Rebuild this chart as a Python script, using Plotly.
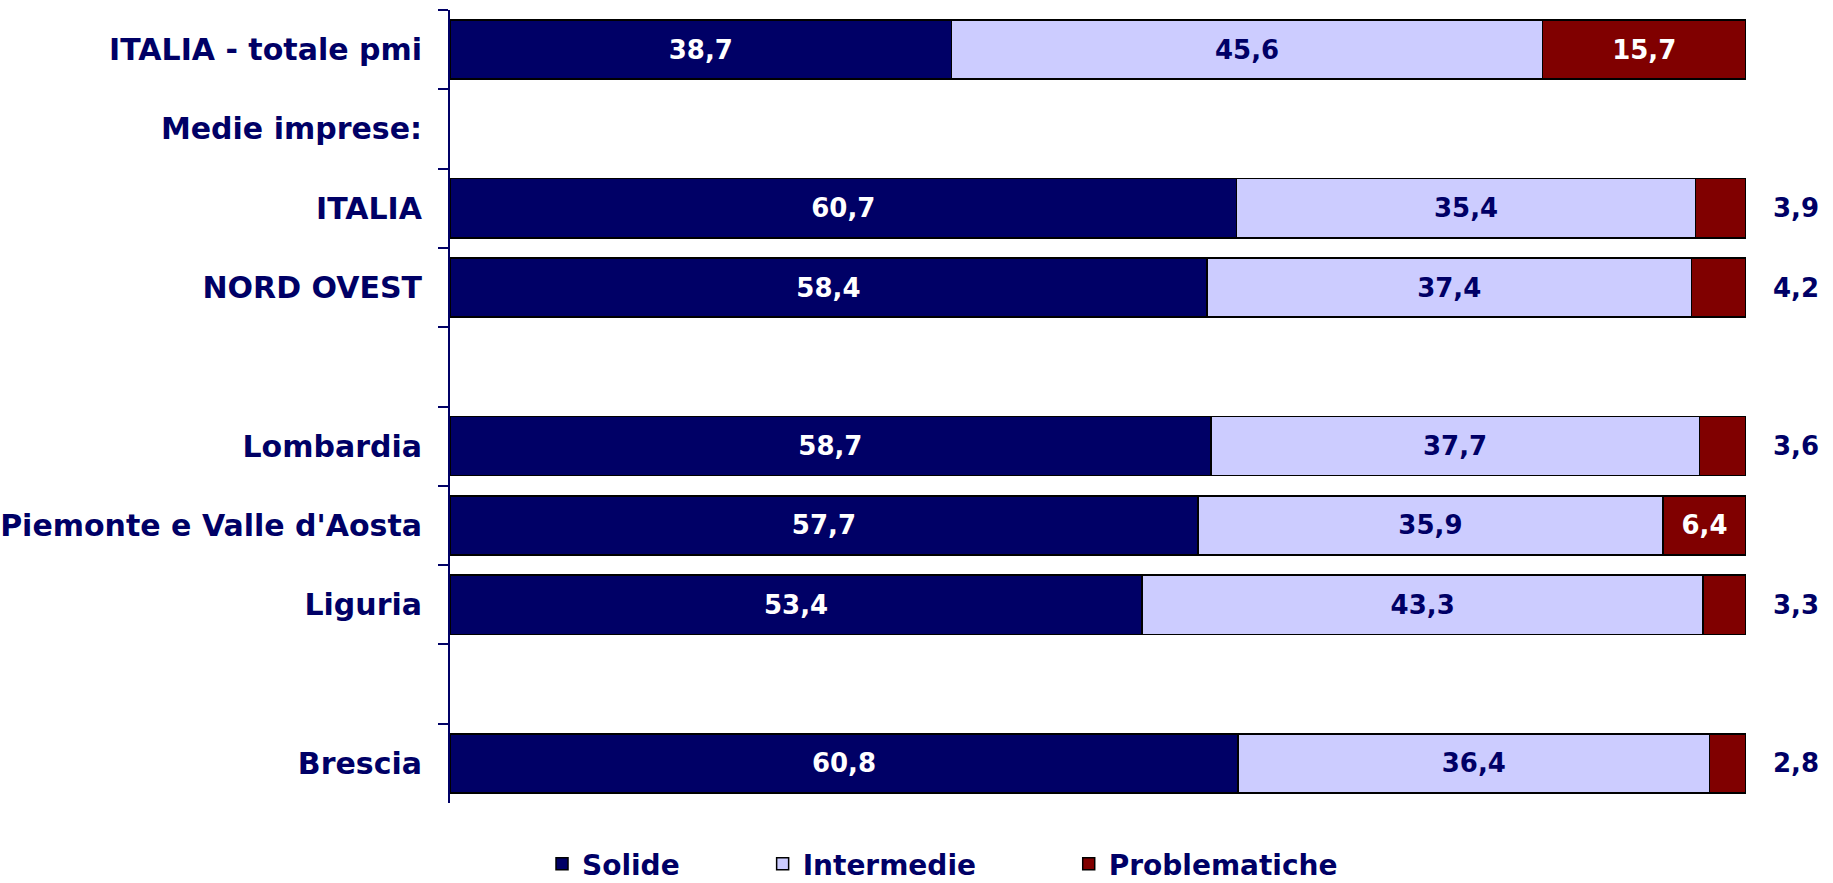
import plotly.graph_objects as go

categories = ["ITALIA - totale pmi", "Medie imprese:", "ITALIA", "NORD OVEST", " ",
              "Lombardia", "Piemonte e Valle d'Aosta", "Liguria", "  ", "Brescia"]
solide = [38.7, None, 60.7, 58.4, None, 58.7, 57.7, 53.4, None, 60.8]
intermedie = [45.6, None, 35.4, 37.4, None, 37.7, 35.9, 43.3, None, 36.4]
problematiche = [15.7, None, 3.9, 4.2, None, 3.6, 6.4, 3.3, None, 2.8]
series_names = ["Solide", "Intermedie", "Problematiche"]

NAVY = "#000066"
LAV = "#CCCCFF"
MAROON = "#800000"
FONT = "DejaVu Sans"
FS = 26
NB = "\u00a0"

fig = go.Figure()

# Problematiche labels: inside when wide enough, else outside (drawn as annotations)
prob_inside = [v is not None and v >= 5 for v in problematiche]

specs = [
    (solide, series_names[0], NAVY, "white", [v is not None for v in solide], 8),
    (intermedie, series_names[1], LAV, NAVY, [v is not None for v in intermedie], 9),
    (problematiche, series_names[2], MAROON, "white", prob_inside, 0),
]
for vals, name, color, tcolor, show, pad in specs:
    texts = [("%.1f" % v).replace(".", ",") if (v is not None and s) else "" for v, s in zip(vals, show)]
    fig.add_trace(go.Bar(
        y=categories, x=vals, name=name + NB * pad, orientation="h",
        marker=dict(color=color, line=dict(color="#000000", width=1.5)),
        text=texts, textposition="inside", insidetextanchor="middle",
        textfont=dict(family=FONT, size=FS, color=tcolor, weight="bold"),
        hoverinfo="skip",
    ))

annotations = []
for cat, s, i, p, inside in zip(categories, solide, intermedie, problematiche, prob_inside):
    if p is not None and not inside:
        annotations.append(dict(
            x=s + i + p, y=cat, xref="x", yref="y", xanchor="left", yanchor="middle",
            xshift=25, showarrow=False,
            text=("%.1f" % p).replace(".", ","),
            font=dict(family=FONT, size=FS, color=NAVY, weight="bold"),
        ))

fig.update_layout(
    barmode="stack",
    bargap=0.255,
    width=1833, height=883,
    margin=dict(l=450, r=87, t=10, b=80, autoexpand=False),
    paper_bgcolor="white", plot_bgcolor="white",
    showlegend=True,
    legend=dict(
        orientation="h", x=0.071, xanchor="left", y=-0.077, yanchor="middle",
        font=dict(family=FONT, size=28, color=NAVY, weight="bold"),
        traceorder="normal", itemclick=False, bgcolor="rgba(0,0,0,0)",
    ),
    annotations=annotations,
    xaxis=dict(range=[0, 100], visible=False, showgrid=False, zeroline=False),
    yaxis=dict(
        type="category", categoryorder="array", categoryarray=categories,
        range=[len(categories) - 0.5, -0.5], automargin=False,
        tickson="boundaries", ticks="outside", ticklen=10, tickwidth=2, tickcolor=NAVY,
        showline=True, linecolor=NAVY, linewidth=2, showgrid=False, zeroline=False,
        ticklabelstandoff=20,
        tickfont=dict(family=FONT, size=30, color=NAVY, weight="bold"),
    ),
)

fig.write_html("out.html", config={"displayModeBar": False},
               post_script="document.body.style.margin='0px';")
